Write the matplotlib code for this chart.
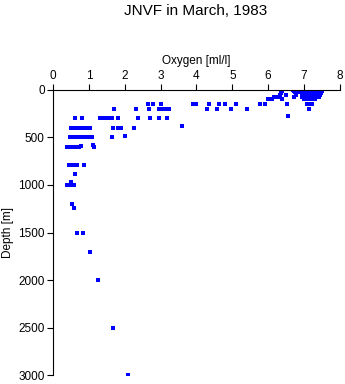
import numpy as np
import matplotlib
matplotlib.use('Agg')
import matplotlib.pyplot as plt

plt.rcParams['font.family'] = ['Liberation Sans', 'DejaVu Sans']

# depth [m] -> oxygen [ml/l] samples
depth_0 = [6.40, 6.69, 6.85, 7.05, 7.10, 7.15, 7.20, 7.25, 7.30, 7.35, 7.40, 7.45, 7.50]
depth_10 = [6.39, 6.72, 6.88, 7.05, 7.12, 7.20, 7.28, 7.35, 7.42, 7.50]
depth_20 = [6.37, 6.75, 6.90, 7.08, 7.15, 7.22, 7.30, 7.38, 7.45]
depth_30 = [6.35, 6.77, 6.95, 7.02, 7.10, 7.18, 7.25, 7.32, 7.40, 7.48]
depth_50 = [6.33, 6.51, 6.78, 7.00, 7.08, 7.15, 7.22, 7.30, 7.38, 7.45]
depth_75 = [6.15, 6.20, 6.25, 6.30, 6.72, 6.95, 7.05, 7.12, 7.20, 7.28, 7.35, 7.42]
depth_100 = [6.00, 6.05, 6.10, 6.40, 7.00, 7.05, 7.10, 7.20, 7.30]
depth_150 = [2.65, 2.79, 3.00, 3.02, 3.90, 3.95, 4.00, 4.36, 4.64, 4.80, 5.10,
             5.77, 5.91, 6.53, 7.09, 7.15, 7.23]
depth_200 = [1.71, 2.30, 2.67, 2.95, 3.00, 3.05, 3.10, 3.20, 3.24, 4.30, 4.58,
             4.96, 5.42, 7.13]
depth_300 = [0.61, 0.81, 1.32, 1.38, 1.45, 1.52, 1.60, 1.65, 1.80, 2.37, 2.69,
             2.96, 3.19]
depth_400 = [0.49, 0.55, 0.60, 0.70, 0.75, 0.85, 0.90, 0.95, 1.02, 1.67, 1.81,
             1.86, 1.90, 2.27]
depth_500 = [0.46, 0.50, 0.55, 0.60, 0.65, 0.70, 0.76, 0.85, 0.90, 0.98, 1.09, 1.64]
depth_600 = [0.40, 0.45, 0.50, 0.60, 0.65, 0.72, 1.14]
depth_800 = [0.44, 0.50, 0.55, 0.62, 0.68, 0.87]
depth_1000 = [0.40, 0.45, 0.50, 0.55, 0.58]

# odd single samples
extra_oxy = [6.55, 3.59, 2.00, 0.77, 1.12, 0.60, 0.49, 0.54, 0.57, 0.68, 0.84,
             1.04, 1.25, 1.68, 2.09]
extra_depth = [280, 380, 480, 590, 585, 890, 970, 1200, 1240, 1500, 1500,
               1700, 2000, 2500, 3000]

groups = [(0, depth_0), (10, depth_10), (20, depth_20), (30, depth_30),
          (50, depth_50), (75, depth_75), (100, depth_100), (150, depth_150),
          (200, depth_200), (300, depth_300), (400, depth_400), (500, depth_500),
          (600, depth_600), (790, depth_800), (1000, depth_1000)]

oxy = []
dep = []
for d, vals in groups:
    oxy += vals
    dep += [d] * len(vals)
oxy += extra_oxy
dep += extra_depth

fig = plt.figure(figsize=(3.45, 3.84), dpi=100)
ax = fig.add_axes([0.154, 0.023, 0.831, 0.743])

ax.plot(oxy, dep, 's', color='#0000ff', markersize=2.3, markeredgewidth=0)

ax.set_xlim(0, 8)
ax.set_ylim(3000, 0)
ax.set_xticks(np.arange(0, 9, 1))
ax.set_yticks(np.arange(0, 3001, 500))

ax.xaxis.tick_top()
ax.xaxis.set_label_position('top')
ax.spines['right'].set_visible(False)
ax.spines['bottom'].set_visible(False)
for s in ['left', 'top']:
    ax.spines[s].set_linewidth(0.8)
ax.tick_params(direction='out', length=4, width=0.8, labelsize=8.5, pad=2)

ax.set_xlabel('Oxygen [ml/l]', fontsize=8.5, labelpad=4)
ax.set_ylabel('Depth [m]', fontsize=8.5, labelpad=3)
fig.text(0.568, 0.972, 'JNVF in March, 1983', ha='center', va='center', fontsize=11)

fig.savefig('out.png', dpi=100)
